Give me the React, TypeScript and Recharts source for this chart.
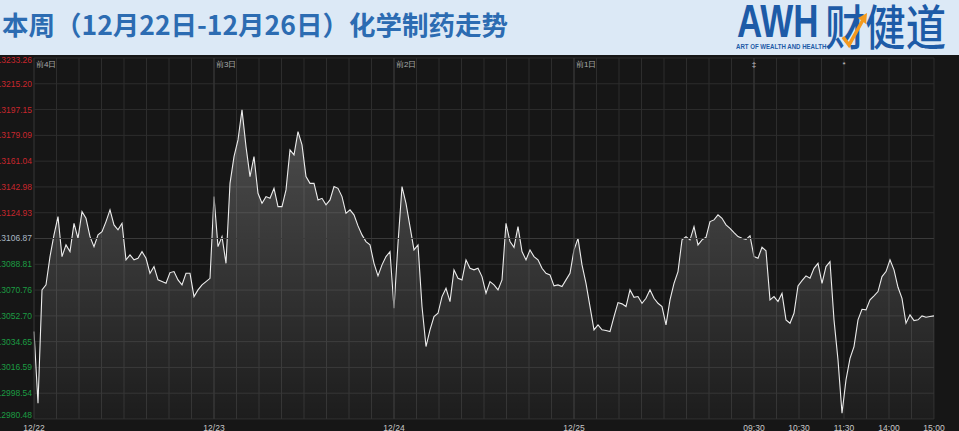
import {
  AreaChart,
  Area,
  XAxis,
  YAxis,
  CartesianGrid,
  ReferenceLine,
} from "recharts";

// 5 trading days, one point every 4 min-ish (45 per day, last day closes at 15:00)
const day1 = [
  13041.7, 12991.5, 13070.9, 13074.4, 13094.2, 13109.4, 13122.2, 13094.2, 13102.4, 13097.7,
  13117.5, 13107.0, 13125.7, 13121.0, 13108.2, 13101.2, 13109.4, 13111.7, 13118.7, 13126.9,
  13116.4, 13112.9, 13117.5, 13091.9, 13095.4, 13091.9, 13093.0, 13097.7, 13093.0, 13082.5,
  13087.2, 13077.9, 13076.7, 13075.5, 13083.0, 13083.7, 13077.9, 13074.4, 13082.5, 13082.5,
  13066.2, 13070.9, 13074.4, 13076.7, 13079.0,
];
const day2 = [
  13136.2, 13101.2, 13108.2, 13089.5, 13145.5, 13164.2, 13175.9, 13196.9, 13171.2, 13150.2,
  13164.2, 13138.5, 13131.5, 13136.2, 13135.0, 13142.0, 13129.2, 13129.2, 13140.9, 13168.9,
  13165.4, 13181.7, 13172.4, 13150.2, 13145.5, 13145.5, 13133.9, 13135.0, 13130.4, 13133.9,
  13143.2, 13142.0, 13136.2, 13124.5, 13126.9, 13123.4, 13115.7, 13109.4, 13104.7, 13102.4,
  13089.5, 13080.7, 13088.4, 13094.2, 13097.7,
];
const day3 = [
  13058.0, 13103.5, 13143.2, 13131.5, 13115.2, 13098.9, 13102.4, 13059.2, 13031.2, 13042.9,
  13052.2, 13054.5, 13066.2, 13072.0, 13062.7, 13084.9, 13079.0, 13077.9, 13091.9, 13086.0,
  13084.9, 13086.0, 13080.2, 13068.5, 13076.7, 13074.4, 13070.9, 13077.9, 13117.5, 13104.7,
  13100.7, 13115.2, 13097.7, 13091.9, 13098.9, 13094.2, 13091.9, 13086.0, 13082.5, 13081.4,
  13073.7, 13074.4, 13073.2, 13077.9, 13082.5,
];
const day4 = [
  13098.9, 13107.0, 13088.4, 13075.5, 13059.2, 13042.9, 13046.4, 13042.9, 13042.4, 13041.7,
  13052.2, 13062.0, 13061.1, 13059.2, 13070.9, 13065.7, 13066.2, 13061.5, 13065.0, 13070.9,
  13065.0, 13061.5, 13059.2, 13046.4, 13063.9, 13075.5, 13083.7, 13105.9, 13108.2, 13105.9,
  13115.2, 13102.4, 13105.9, 13107.7, 13118.7, 13119.9, 13123.4, 13121.0, 13116.4, 13114.0,
  13111.0, 13108.2, 13107.0, 13106.3, 13108.7,
];
const day5 = [
  13094.2, 13093.0, 13100.7, 13098.2, 13063.9, 13066.2, 13062.7, 13068.5, 13049.9, 13047.5,
  13054.5, 13073.7, 13077.4, 13080.7, 13079.0, 13086.0, 13089.5, 13075.5, 13087.2, 13090.7,
  13049.9, 13021.9, 12984.5, 13007.9, 13023.0, 13031.2, 13049.9, 13057.3, 13056.9, 13063.9,
  13066.7, 13069.7, 13080.2, 13083.7, 13091.9, 13084.9, 13072.7, 13065.0, 13047.5, 13053.4,
  13049.4, 13049.9, 13052.7, 13051.7, 13052.2, 13052.7,
];

const baseClose = 13106.87;
const priceTicks = [
  13233.26, 13215.2, 13197.15, 13179.09, 13161.04, 13142.98, 13124.93, 13106.87,
  13088.81, 13070.76, 13052.7, 13034.65, 13016.59, 12998.54, 12980.48,
];
const pctLabels = [
  "0.96%", "0.83%", "0.69%", "0.55%", "0.41%", "0.28%", "0.14%", "0.00%",
  "0.14%", "0.28%", "0.41%", "0.55%", "0.69%", "0.83%", "0.96%",
];
const dayLabels = ["12/22", "12/23", "12/24", "12/25"];
const timeLabels = ["09:30", "10:30", "11:30", "14:00", "15:00"];
const prevDayLabels = ["前4日", "前3日", "前2日", "前1日"];
const markers = [
  { t: 180, mark: "‡" },
  { t: 202.5, mark: "*" },
];

const PER_DAY = 45;
const days = [day1, day2, day3, day4, day5];
const data = days.flatMap((d, di) => d.map((v, j) => ({ t: di * PER_DAY + j, price: v })));
const lastT = data[data.length - 1].t;

// 8 grid columns per day, the last day shows hours
const gridStep = PER_DAY / 8;
const gridTicks = Array.from({ length: 41 }, (_, k) => k * gridStep);
const xLabel = (k: number) => {
  if (k < 32) return k % 8 === 0 ? dayLabels[k / 8] : "";
  return (k - 32) % 2 === 0 ? timeLabels[(k - 32) / 2] : "";
};

const RED = "#c8262d";
const GREEN = "#1c9c43";
const FLAT = "#a9b6c4";

const YTick = ({ x, y, payload, side }: any) => {
  const v = payload.value;
  const i = priceTicks.indexOf(v);
  const color = Math.abs(v - baseClose) < 0.005 ? FLAT : v > baseClose ? RED : GREEN;
  const shift = i === 0 ? 2 : i === priceTicks.length - 1 ? -4 : 0;
  return (
    <text
      x={x}
      y={y + shift}
      dy="0.35em"
      textAnchor={side === "left" ? "end" : "start"}
      fill={color}
      fontSize={8.5}
    >
      {side === "left" ? v.toFixed(2) : pctLabels[i]}
    </text>
  );
};

const XTick = ({ x, y, index }: any) => {
  const label = xLabel(index);
  if (!label) return null;
  return (
    <text x={x} y={y + 11.5} textAnchor="middle" fill="#c9c9c9" fontSize={8.5}>
      {label}
    </text>
  );
};

const topText = (text: string, dx: number, color = "#ababab") => (props: any) => {
  const vb = props.viewBox || {};
  return (
    <text x={vb.x + dx} y={vb.y + 9} fill={color} fontSize={8} textAnchor={dx ? "start" : "middle"}>
      {text}
    </text>
  );
};

function Logo() {
  const blue = "#1d5ba7";
  return (
    <>
      <div
        style={{
          position: "absolute",
          left: 737,
          top: 2,
          fontSize: 46,
          lineHeight: "38px",
          fontWeight: "bold",
          color: blue,
          fontFamily: '"Liberation Sans", Arial, sans-serif',
          transform: "scaleX(0.76)",
          transformOrigin: "left top",
        }}
      >
        AWH
      </div>
      <div
        style={{
          position: "absolute",
          left: 736,
          top: 42,
          fontSize: 7.5,
          lineHeight: "9px",
          fontWeight: "bold",
          color: blue,
          whiteSpace: "nowrap",
          fontFamily: '"Liberation Sans", Arial, sans-serif',
          transform: "scaleX(0.81)",
          transformOrigin: "left top",
        }}
      >
        ART OF WEALTH AND HEALTH
      </div>
      <div
        style={{
          position: "absolute",
          left: 825,
          top: 0,
          fontSize: 48,
          lineHeight: "48px",
          color: blue,
          whiteSpace: "nowrap",
          fontFamily: '"Noto Sans CJK SC", sans-serif',
          fontWeight: 500,
          transform: "scaleX(0.84)",
          transformOrigin: "left top",
        }}
      >
        财健道
      </div>
      <svg style={{ position: "absolute", left: 838, top: 10 }} width={32} height={40}>
        <polyline points="5,27 11,35 26,8" fill="none" stroke="#f39a1e" strokeWidth={3.5} />
        <polygon points="20,8 29,3 28,14" fill="#f39a1e" />
      </svg>
    </>
  );
}

export default function App() {
  return (
    <div
      style={{
        position: "fixed",
        left: 0,
        top: 0,
        width: 959,
        height: 431,
        background: "#161616",
        overflow: "hidden",
        fontFamily: '"Liberation Sans", Arial, sans-serif',
      }}
    >
      <div style={{ position: "relative", height: 55, background: "#dce9f6" }}>
        <div
          style={{
            position: "absolute",
            left: 2,
            top: 6,
            fontSize: 26.5,
            lineHeight: "36px",
            fontWeight: "bold",
            color: "#2c6cb2",
            whiteSpace: "nowrap",
            fontFamily: '"Noto Sans CJK SC", sans-serif',
          }}
        >
          本周（12月22日-12月26日）化学制药走势
        </div>
        <Logo />
      </div>

      <AreaChart width={959} height={376} data={data} margin={{ top: 3, right: 0, bottom: 0, left: 0 }}>
        <defs>
          <linearGradient id="fillGrad" x1="0" y1="0" x2="0" y2="1">
            <stop offset="0" stopColor="#ffffff" stopOpacity={0.24} />
            <stop offset="1" stopColor="#ffffff" stopOpacity={0.03} />
          </linearGradient>
        </defs>
        <CartesianGrid yAxisId="left" stroke="#2d2d2d" strokeWidth={1} />
        <XAxis
          dataKey="t"
          type="number"
          domain={[0, lastT]}
          ticks={gridTicks}
          interval={0}
          tickLine={false}
          axisLine={false}
          tickSize={0}
          tickMargin={0}
          height={12}
          tick={<XTick />}
        />
        <YAxis
          yAxisId="left"
          orientation="left"
          width={34}
          type="number"
          domain={[priceTicks[priceTicks.length - 1], priceTicks[0]]}
          ticks={priceTicks}
          interval={0}
          tickLine={false}
          axisLine={false}
          tickSize={0}
          tickMargin={2}
          tick={<YTick side="left" />}
        />
        <YAxis
          yAxisId="right"
          orientation="right"
          width={25}
          type="number"
          domain={[priceTicks[priceTicks.length - 1], priceTicks[0]]}
          ticks={priceTicks}
          interval={0}
          tickLine={false}
          axisLine={false}
          tickSize={0}
          tickMargin={2}
          tick={<YTick side="right" />}
        />
        <ReferenceLine yAxisId="left" y={baseClose} stroke="#3a3a3a" />
        {prevDayLabels.map((lab, d) => (
          <ReferenceLine
            key={lab}
            yAxisId="left"
            x={d * PER_DAY}
            stroke={d === 0 ? "#2d2d2d" : "#393939"}
            label={topText(lab, 2)}
          />
        ))}
        {markers.map((m) => (
          <ReferenceLine
            key={m.t}
            yAxisId="left"
            x={m.t}
            stroke={m.t === 4 * PER_DAY ? "#393939" : "none"}
            label={topText(m.mark, 0, "#c8c8c8")}
          />
        ))}
        <Area
          yAxisId="left"
          type="linear"
          dataKey="price"
          stroke="#ececec"
          strokeWidth={1.1}
          fill="url(#fillGrad)"
          fillOpacity={1}
          dot={false}
          activeDot={false}
          isAnimationActive={false}
        />
      </AreaChart>
    </div>
  );
}
